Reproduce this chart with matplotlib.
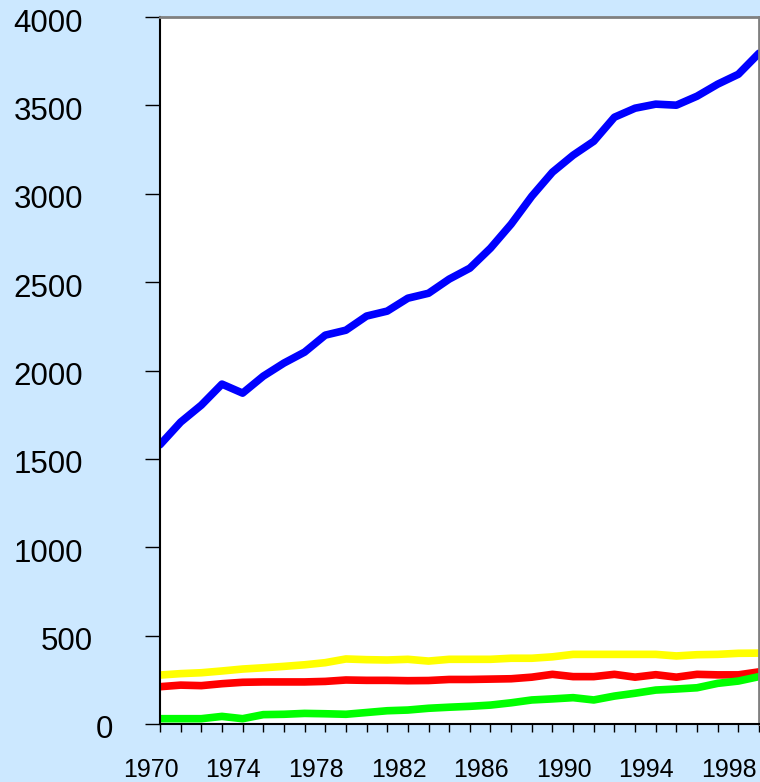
import matplotlib
matplotlib.use('Agg')
import matplotlib.pyplot as plt
import matplotlib.transforms as mtransforms

# Данные
years = list(range(1970, 2000))
blue = [1580, 1708, 1804, 1923, 1872, 1968, 2042, 2104, 2200, 2228,
        2308, 2336, 2409, 2437, 2517, 2579, 2692, 2828, 2986, 3122,
        3218, 3297, 3433, 3484, 3507, 3501, 3552, 3620, 3676, 3795]
yellow = [277, 285, 290, 300, 311, 318, 326, 335, 347, 368,
          364, 362, 366, 356, 366, 366, 366, 372, 372, 380,
          394, 394, 394, 394, 394, 385, 392, 394, 400, 401]
red = [211, 220, 217, 228, 236, 238, 238, 238, 241, 249,
       247, 247, 245, 246, 252, 252, 254, 256, 265, 281,
       268, 268, 281, 265, 279, 265, 281, 278, 278, 295]
green = [30, 30, 30, 43, 30, 53, 55, 60, 58, 55,
         65, 75, 79, 89, 95, 100, 107, 120, 136, 142,
         149, 136, 158, 174, 192, 198, 205, 230, 243, 268]
x_label_years = [1970, 1974, 1978, 1982, 1986, 1990, 1994, 1998]
y_ticks = [0, 500, 1000, 1500, 2000, 2500, 3000, 3500, 4000]

plt.rcParams['font.family'] = ['Liberation Sans', 'DejaVu Sans']

W, H, DPI = 760, 782, 100
fig = plt.figure(figsize=(W / DPI, H / DPI), dpi=DPI)
fig.patch.set_facecolor('#CCE8FF')
ax = fig.add_axes([160 / W, 58 / H, 599 / W, 707 / H])
ax.set_facecolor('white')

lw = 5.5
ax.plot(years, blue, color='#0000FF', linewidth=lw, solid_capstyle='round')
ax.plot(years, yellow, color='#FFFF00', linewidth=lw, solid_capstyle='round')
ax.plot(years, red, color='#FF0000', linewidth=lw, solid_capstyle='round')
ax.plot(years, green, color='#00FF00', linewidth=lw, solid_capstyle='round')

ax.set_xlim(1970, 1999)
ax.set_ylim(0, 4000)
ax.set_yticks(y_ticks)
ax.set_xticks(years)
ax.set_yticklabels([])
ax.set_xticklabels([])

ax.tick_params(axis='y', direction='out', length=11, width=1)
ax.tick_params(axis='x', direction='out', length=6, width=1)

# Подписи оси Y: как в оригинале, короткие подписи сдвинуты вправо
ytr = mtransforms.blended_transform_factory(fig.transFigure, ax.transData)
yoff = mtransforms.ScaledTranslation(0, -14.5 / DPI, fig.dpi_scale_trans)
for v in y_ticks:
    s = str(v)
    shift = (4 - len(s)) * 10
    ax.text((83 + shift) / W, v, s, transform=ytr + yoff, ha='right', va='baseline',
            fontsize=22.5, color='black', clip_on=False)

# Подписи оси X: каждые 4 года, чуть левее засечки
xtr = mtransforms.blended_transform_factory(ax.transData, fig.transFigure)
xoff = mtransforms.ScaledTranslation(-9.3 / DPI, 0, fig.dpi_scale_trans)
for yr in x_label_years:
    ax.text(yr, 1 - 777 / H, str(yr), transform=xtr + xoff, ha='center', va='baseline',
            fontsize=18, color='black', clip_on=False)

ax.spines['left'].set_color('black')
ax.spines['left'].set_linewidth(1.5)
ax.spines['bottom'].set_color('black')
ax.spines['bottom'].set_linewidth(1.5)
ax.spines['top'].set_color('#808080')
ax.spines['top'].set_linewidth(2)
ax.spines['right'].set_color('#808080')
ax.spines['right'].set_linewidth(2)

fig.savefig('out.png', dpi=DPI, facecolor=fig.get_facecolor())
